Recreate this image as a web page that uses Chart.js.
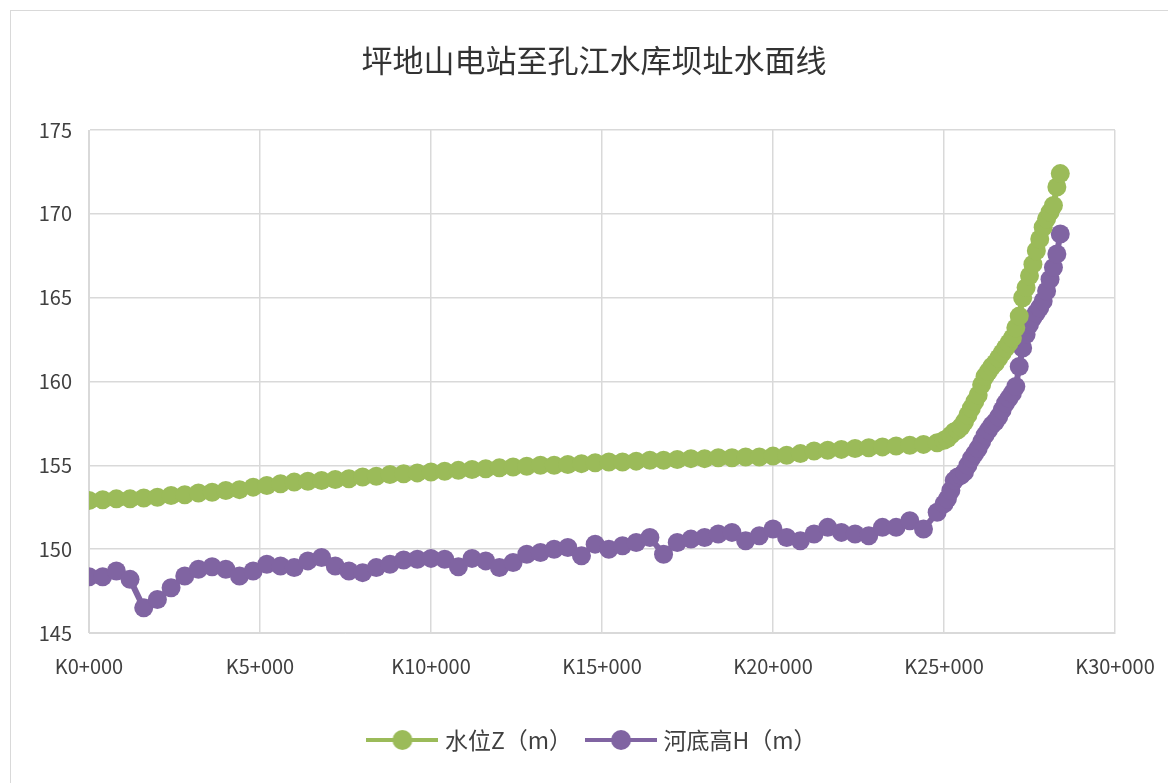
<!DOCTYPE html>
<html>
<head>
<meta charset="utf-8">
<script src="https://cdn.jsdelivr.net/npm/chart.js@4.4.1/dist/chart.umd.min.js"></script>
<style>
  html, body { margin: 0; padding: 0; background: #fff; }
  #wrap { width: 1168px; height: 783px; position: relative; }
</style>
</head>
<body>
<div id="wrap"><canvas id="chart" width="1168" height="783"></canvas></div>
<script>
// 桩号 (km)
const stations = [
  0, 0.4, 0.8, 1.2, 1.6, 2.0, 2.4, 2.8, 3.2, 3.6, 4.0, 4.4, 4.8, 5.2, 5.6, 6.0,
  6.4, 6.8, 7.2, 7.6, 8.0, 8.4, 8.8, 9.2, 9.6, 10.0, 10.4, 10.8, 11.2, 11.6, 12.0,
  12.4, 12.8, 13.2, 13.6, 14.0, 14.4, 14.8, 15.2, 15.6, 16.0, 16.4, 16.8, 17.2,
  17.6, 18.0, 18.4, 18.8, 19.2, 19.6, 20.0, 20.4, 20.8, 21.2, 21.6, 22.0, 22.4,
  22.8, 23.2, 23.6, 24.0, 24.4, 24.8,
  25.0, 25.1, 25.2, 25.3, 25.4, 25.5, 25.6, 25.7, 25.8, 25.9, 26.0, 26.1, 26.2,
  26.3, 26.4, 26.5, 26.6, 26.7, 26.8, 26.9, 27.0, 27.1, 27.2, 27.3, 27.4, 27.5,
  27.6, 27.7, 27.8, 27.9, 28.0, 28.1, 28.2, 28.3, 28.4
];

// 水位Z（m）
const waterLevel = [
  152.9, 152.95, 153.0, 153.0, 153.05, 153.1, 153.2, 153.25, 153.35, 153.4, 153.5,
  153.55, 153.7, 153.8, 153.9, 154.0, 154.05, 154.1, 154.15, 154.2, 154.3, 154.35,
  154.45, 154.5, 154.55, 154.6, 154.65, 154.7, 154.75, 154.8, 154.85, 154.9, 154.95,
  155.0, 155.0, 155.05, 155.1, 155.15, 155.2, 155.2, 155.25, 155.3, 155.3, 155.35,
  155.4, 155.4, 155.45, 155.45, 155.5, 155.5, 155.55, 155.6, 155.7, 155.85, 155.9,
  155.95, 156.0, 156.05, 156.1, 156.15, 156.2, 156.25, 156.35,
  156.5, 156.6, 156.8, 157.0, 157.1, 157.3, 157.6, 158.0, 158.4, 158.8, 159.2,
  159.8, 160.3, 160.6, 160.9, 161.1, 161.4, 161.7, 162.0, 162.3, 162.6, 163.2,
  163.9, 165.0, 165.6, 166.3, 167.0, 167.8, 168.5, 169.2, 169.7, 170.1, 170.5,
  171.6, 172.4
];

// 河底高H（m）
const bedLevel = [
  148.35, 148.35, 148.7, 148.2, 146.5, 147.0, 147.7, 148.4, 148.8, 148.95, 148.8,
  148.4, 148.7, 149.1, 149.0, 148.9, 149.3, 149.5, 149.0, 148.7, 148.6, 148.9,
  149.1, 149.35, 149.4, 149.45, 149.4, 148.95, 149.45, 149.3, 148.9, 149.2, 149.7,
  149.8, 150.0, 150.1, 149.6, 150.3, 150.0, 150.2, 150.4, 150.7, 149.7, 150.4,
  150.6, 150.7, 150.9, 151.0, 150.5, 150.8, 151.2, 150.7, 150.5, 150.9, 151.3,
  151.0, 150.9, 150.8, 151.3, 151.3, 151.7, 151.2, 152.2,
  152.7, 153.0, 153.5, 154.1, 154.3, 154.4, 154.6, 155.0, 155.4, 155.7, 156.0,
  156.4, 156.8, 157.1, 157.4, 157.6, 157.9, 158.3, 158.7, 159.0, 159.3, 159.7,
  160.9, 162.0, 162.8, 163.4, 163.8, 164.1, 164.4, 164.8, 165.4, 166.1, 166.8,
  167.6, 168.8
];

const xTicks = [0, 5, 10, 15, 20, 25, 30];
const yTicks = [145, 150, 155, 160, 165, 170, 175];

const FONT = '"Noto Sans CJK SC", "Noto Sans", sans-serif';
const GREEN = "#9bbb59";
const PURPLE = "#8064a2";
const TEXT = "#404040";

// 图例：线 + 圆点
function legendIcon(color) {
  const c = document.createElement("canvas");
  c.width = 72;
  c.height = 22;
  const g = c.getContext("2d");
  g.strokeStyle = color;
  g.lineWidth = 4;
  g.beginPath();
  g.moveTo(0, 11);
  g.lineTo(72, 11);
  g.stroke();
  g.fillStyle = color;
  g.beginPath();
  g.arc(36, 11, 10, 0, Math.PI * 2);
  g.fill();
  return c;
}

const frame = {
  id: "frame",
  beforeDraw(chart) {
    const ctx = chart.ctx;
    ctx.save();
    ctx.fillStyle = "#fff";
    ctx.fillRect(0, 0, chart.width, chart.height);
    ctx.strokeStyle = "#d9d9d9";
    ctx.lineWidth = 1;
    ctx.strokeRect(10.5, 10.5, chart.width, chart.height);
    ctx.restore();
  },
};

new Chart(document.getElementById("chart"), {
  type: "line",
  data: {
    datasets: [
      {
        label: "水位Z（m）",
        data: stations.map((s, i) => ({ x: s, y: waterLevel[i] })),
        borderColor: GREEN,
        backgroundColor: GREEN,
        borderWidth: 6,
        pointRadius: 9.5,
        pointBorderWidth: 0,
        pointStyle: "circle",
      },
      {
        label: "河底高H（m）",
        data: stations.map((s, i) => ({ x: s, y: bedLevel[i] })),
        borderColor: PURPLE,
        backgroundColor: PURPLE,
        borderWidth: 6,
        pointRadius: 9.5,
        pointBorderWidth: 0,
        pointStyle: "circle",
      },
    ],
  },
  options: {
    responsive: false,
    animation: false,
    layout: { padding: { left: 34, right: 14, top: 0, bottom: 21.5 } },
    scales: {
      x: {
        type: "linear",
        min: 0,
        max: 30,
        afterBuildTicks: (scale) => {
          scale.ticks = xTicks.map((v) => ({ value: v }));
        },
        afterFit: (scale) => {
          scale.height = 77.5;
          scale.paddingRight = 53;
        },
        ticks: {
          callback: (v) => "K" + v + "+000",
          color: TEXT,
          font: { family: FONT, size: 20 },
          maxRotation: 0,
          padding: 21,
        },
        grid: { color: "#d9d9d9", lineWidth: 1.5, drawTicks: false },
        border: { color: "#d9d9d9" },
      },
      y: {
        min: 145,
        max: 175,
        afterBuildTicks: (scale) => {
          scale.ticks = yTicks.map((v) => ({ value: v }));
        },
        afterFit: (scale) => {
          scale.width = 55;
        },
        ticks: {
          color: TEXT,
          font: { family: FONT, size: 20 },
          padding: 17,
        },
        grid: { color: "#d9d9d9", lineWidth: 1.5, drawTicks: false },
        border: { color: "#d9d9d9" },
      },
    },
    plugins: {
      title: {
        display: true,
        text: "坪地山电站至孔江水库坝址水面线",
        color: "#333333",
        font: { family: FONT, size: 31, weight: "normal" },
        padding: { top: 41.4, bottom: 51.4 },
      },
      legend: {
        position: "bottom",
        labels: {
          usePointStyle: true,
          pointStyleWidth: 62,
          color: TEXT,
          font: { family: FONT, size: 23 },
          padding: 18,
          generateLabels: (chart) =>
            chart.data.datasets.map((ds, i) => ({
              text: ds.label,
              pointStyle: legendIcon(ds.borderColor),
              fillStyle: ds.borderColor,
              strokeStyle: ds.borderColor,
              lineWidth: 0,
              fontColor: TEXT,
              datasetIndex: i,
              hidden: false,
            })),
        },
      },
      tooltip: { enabled: false },
    },
  },
  plugins: [frame],
});
</script>
</body>
</html>
